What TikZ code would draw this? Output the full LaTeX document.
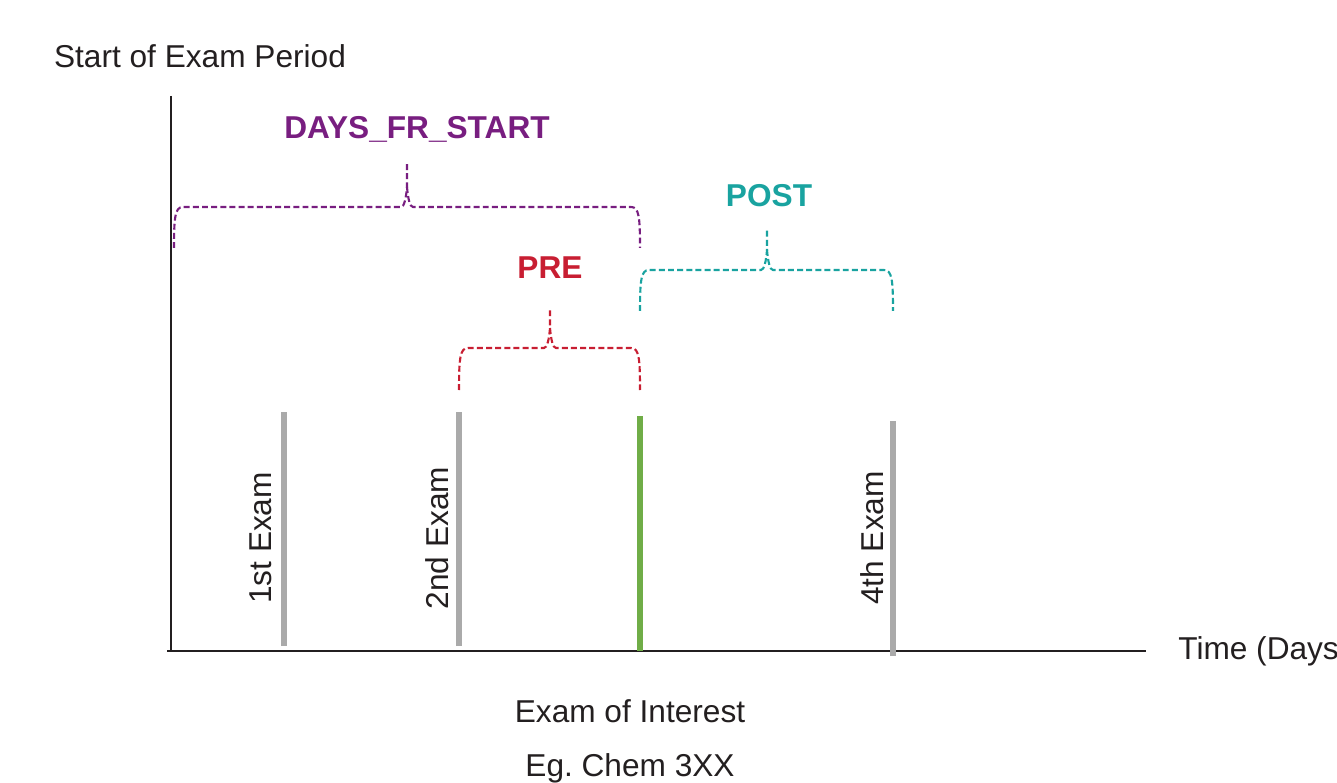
\documentclass[tikz,border=0pt]{standalone}
\usepackage{fontspec}
\setmainfont{Liberation Sans}
\usepackage{xcolor}
\definecolor{txtgray}{RGB}{35,31,32}
\definecolor{exgray}{RGB}{170,170,170}
\definecolor{exgreen}{RGB}{112,173,71}
\definecolor{dfspurple}{RGB}{120,30,128}
\definecolor{prered}{RGB}{200,30,50}
\definecolor{postteal}{RGB}{25,163,160}
\usetikzlibrary{positioning}

\tikzset{
  lbl/.style={font=\fontsize{18}{22}\selectfont, text=txtgray, inner sep=0pt},
  bracelbl/.style={font=\fontsize{18}{22}\selectfont\bfseries, inner sep=0pt},
  examline/.style={line width=3pt, exgray},
  spanline/.style={line width=1.2pt, dash pattern=on 3.4pt off 1.8pt}
}

% brace: colour, left x, right x, middle x, bar y, end y, tip y
\newcommand{\spanbrace}[7]{%
  \draw[spanline, #1] (#2,#6) .. controls (#2,#5+10) and (#2+1,#5) .. (#2+9,#5)
    -- (#4-6,#5) .. controls (#4-3,#5) and (#4-1,#5-8) .. (#4,#5-20) -- (#4,#7);
  \draw[spanline, #1] (#4,#5-20) .. controls (#4+1,#5-8) and (#4+3,#5) .. (#4+6,#5)
    -- (#3-9,#5) .. controls (#3-1,#5) and (#3,#5+10) .. (#3,#6);
}

\begin{document}
\begin{tikzpicture}[x=0.02cm, y=-0.02cm]
  \useasboundingbox (0,0) rectangle (1337,783);

  % axes
  \coordinate (origin) at (171,651);
  \coordinate (ytop) at (171,96);
  \coordinate (xend) at (1146,651);
  \draw[line width=1.5pt, txtgray] (ytop) -- (origin);
  \draw[line width=1.5pt, txtgray] (167,651) -- (xend);
  \node[lbl] (startlbl) at (200,56) {Start of Exam Period};
  \node[lbl, anchor=west] (timelbl) at (1178,651) {Time (Days};

  % exams
  \coordinate (exam1) at (284,646);
  \coordinate (exam2) at (459,646);
  \coordinate (exam3) at (640,651);
  \coordinate (exam4) at (893,656);
  \draw[examline] (exam1) -- (284,412);
  \draw[examline] (exam2) -- (459,412);
  \draw[line width=3pt, exgreen] (exam3) -- (640,416);
  \draw[examline] (exam4) -- (893,421);
  \node[lbl, rotate=90] (exam1lbl) at (261,538) {1st Exam};
  \node[lbl, rotate=90] (exam2lbl) at (437,538) {2nd Exam};
  \node[lbl, rotate=90] (exam4lbl) at (872,538) {4th Exam};
  \node[lbl] (interest) at (630,711) {Exam of Interest};
  \node[lbl] (chem) at (630,768) {Eg.\ Chem 3XX};

  % spans
  \spanbrace{dfspurple}{174}{640}{407}{207}{248}{163}
  \spanbrace{prered}{459}{640}{550}{348}{390}{308}
  \spanbrace{postteal}{640}{893}{767}{270}{311}{229}
  \node[bracelbl, dfspurple] (dfslbl) at (417,129) {DAYS\_FR\_START};
  \node[bracelbl, prered] (prelbl) at (550,268) {PRE};
  \node[bracelbl, postteal] (postlbl) at (769,196) {POST};
\end{tikzpicture}
\end{document}
